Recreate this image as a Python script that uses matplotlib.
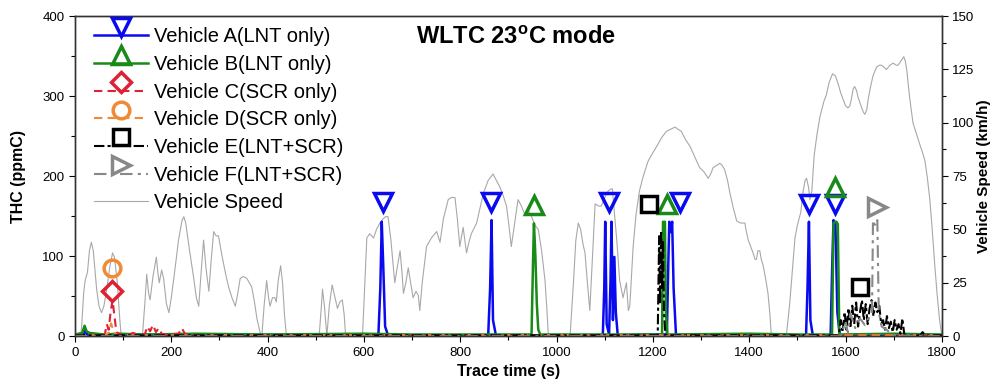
import numpy as np
import matplotlib
matplotlib.use('Agg')
import matplotlib.pyplot as plt
from matplotlib.lines import Line2D
from matplotlib.legend_handler import HandlerLine2D
from matplotlib.ticker import MultipleLocator

plt.rcParams['font.family'] = ['Liberation Sans', 'DejaVu Sans']
plt.rcParams['mathtext.fontset'] = 'custom'
plt.rcParams['mathtext.bf'] = 'Liberation Sans:bold'
plt.rcParams['mathtext.rm'] = 'Liberation Sans'

# vehicle speed (WLTC)
speed_t = [0, 12, 14, 18, 21, 26, 30, 34, 38, 45, 50, 55, 60, 66, 72, 78, 82, 88, 93, 96,
           140, 145, 149, 153, 156, 162, 169, 172, 175, 180, 184, 190, 195, 200, 208, 215, 222, 226,
           230, 238, 246, 252, 257, 262, 267, 272, 278, 283, 288, 293, 298, 305, 312, 319, 326, 333,
           338, 343, 350, 357, 362, 367, 372, 378, 385, 388, 393, 398, 402, 405, 410, 415, 418, 422,
           427, 431, 435, 439,
           507, 511, 514, 518, 523, 528, 534, 540, 545, 550, 555, 559, 562,
           597, 601, 606, 612, 620, 626, 633, 640, 645, 650, 656, 664, 669, 675, 679, 682, 687, 692,
           697, 702, 708, 713, 716, 721, 730, 740, 751, 758, 765, 775, 782, 789, 794, 799, 806, 813,
           818, 823, 834, 841, 848, 858, 868, 875, 882, 889, 896, 901, 906, 913, 920, 927, 934, 941,
           948, 955, 962, 969, 976, 980, 983,
           1028, 1035, 1040, 1045, 1050, 1055, 1059, 1064, 1069, 1074, 1080, 1087, 1093, 1100, 1107,
           1113, 1116, 1120, 1125, 1131, 1138, 1145, 1149, 1152, 1159, 1165, 1172, 1180, 1190, 1200,
           1208, 1218, 1228, 1237, 1246, 1252, 1259, 1268, 1277, 1287, 1297, 1306, 1315, 1320, 1325,
           1332, 1339, 1344, 1349, 1355, 1360, 1367, 1374, 1382, 1391, 1394, 1398, 1403, 1408, 1412,
           1415, 1418, 1422, 1425, 1429, 1434, 1439, 1443, 1446,
           1477, 1484, 1490, 1495, 1500, 1507, 1512, 1516, 1519, 1523, 1526, 1530, 1535, 1541, 1547,
           1555, 1560, 1566, 1573, 1579, 1585, 1590, 1595, 1600, 1605, 1609, 1612, 1616, 1619, 1623,
           1626, 1632, 1637, 1640, 1644, 1647, 1652, 1657, 1664, 1670, 1675, 1680, 1685, 1692, 1699,
           1705, 1709, 1715, 1721, 1724, 1727, 1733, 1740, 1747, 1754, 1760, 1765, 1770, 1775, 1780,
           1785, 1790, 1795, 1800]
speed_v = [0, 0, 5, 20, 26, 30, 40, 44, 40, 22, 14, 11, 14, 22, 32, 39, 37, 25, 8, 0,
           0, 15, 29, 20, 17, 28, 37, 30, 25, 31, 27, 15, 11, 18, 32, 45, 54, 56,
           53, 40, 28, 18, 14, 30, 45, 32, 21, 36, 49, 47, 47, 38, 30, 23, 18, 14,
           20, 27, 28, 27, 25, 23, 17, 8, 1, 0, 15, 26, 18, 14, 18, 18, 16, 26,
           33, 25, 10, 0,
           0, 12, 22, 14, 0, 14, 24, 18, 13, 16, 17, 10, 0,
           0, 20, 46, 48, 46, 50, 53, 55, 56, 56, 45, 25, 32, 40, 30, 20, 25, 32,
           25, 18, 21, 19, 12, 25, 42, 46, 49, 44, 55, 64, 65, 65, 55, 42, 51, 39,
           44, 48, 53, 60, 67, 73, 76, 73, 70, 66, 61, 52, 42, 53, 64, 61, 57, 59,
           56, 52, 50, 40, 26, 12, 0,
           0, 25, 45, 53, 50, 43, 39, 25, 12, 35, 62, 61, 61, 65, 68,
           69, 69, 58, 45, 26, 18, 25, 12, 14, 42, 57, 68, 75, 82, 86,
           89, 93, 96, 97, 98, 97, 96, 92, 89, 84, 79, 77, 74, 76, 79,
           80, 81, 80, 78, 73, 67, 60, 54, 53, 53, 49, 45, 42, 39, 36,
           36, 40, 40, 36, 33, 27, 20, 10, 0,
           0, 15, 32, 46, 52, 58, 68, 73, 74, 70, 64, 68, 85, 95, 103,
           110, 113, 119, 123, 122, 118, 114, 111, 108, 107, 108, 111, 116, 117, 115,
           112, 108, 105, 104, 106, 111, 117, 122, 126, 127, 127, 126, 125, 127, 128,
           127, 127, 129, 131, 129, 125, 112, 100, 95, 90, 86, 82, 74, 64, 50,
           34, 20, 8, 0]

# THC traces (ppmC)
a_t = [0, 18, 22, 26, 120, 300, 500, 630, 634, 637, 640, 644, 650, 858, 862, 865, 868, 874,
       1096, 1099, 1101, 1104, 1109, 1112, 1114, 1117, 1120, 1123, 1127, 1200, 1229, 1232, 1234,
       1237, 1240, 1243, 1248, 1400, 1518, 1521, 1524, 1527, 1532, 1569, 1572, 1575, 1579, 1583,
       1588, 1800]
a_v = [1, 1, 8, 1, 2, 1, 2, 1, 60, 143, 90, 12, 1, 1, 60, 145, 20, 1,
       1, 60, 143, 15, 2, 70, 143, 20, 99, 30, 1, 2, 2, 90, 143,
       130, 143, 60, 1, 2, 1, 60, 143, 20, 1, 1, 80, 145, 140, 30,
       1, 1]
b_t = [0, 15, 20, 24, 30, 60, 90, 150, 250, 400, 600, 700, 948, 951, 953, 956, 959, 962, 966,
       1100, 1219, 1221, 1223, 1225, 1227, 1230, 1400, 1500, 1572, 1575, 1578, 1581, 1584, 1587,
       1700, 1800]
b_v = [2, 4, 13, 6, 4, 2, 3, 2, 3, 2, 3, 2, 2, 90, 141, 100, 40, 8, 2,
       2, 2, 143, 140, 143, 30, 2, 3, 2, 2, 140, 143, 143, 140, 2,
       3, 2]
c_t = [0, 40, 62, 66, 70, 74, 78, 82, 86, 95, 110, 120, 130, 145, 150, 156, 162, 168, 174,
       180, 190, 215, 222, 228, 240, 400, 1000, 1800]
c_v = [1, 1, 2, 15, 8, 30, 45, 25, 5, 2, 1, 4, 2, 2, 12, 6, 14, 5, 10,
       3, 2, 3, 10, 3, 1, 1, 1, 1]
d_t = [0, 60, 70, 75, 80, 88, 100, 200, 600, 1200, 1800]
d_v = [1, 1, 4, 16, 6, 1, 1, 1, 1, 1, 1]
e_t = [0, 400, 800, 1210, 1213, 1215, 1217, 1219, 1221, 1223, 1226, 1400, 1586, 1590, 1594,
       1598, 1602, 1606, 1610, 1614, 1618, 1622, 1626, 1630, 1634, 1638, 1642, 1646, 1650, 1654,
       1658, 1662, 1666, 1670, 1674, 1678, 1682, 1686, 1690, 1694, 1698, 1702, 1706, 1710, 1714,
       1718, 1722, 1728, 1755, 1760, 1765, 1800]
e_v = [1, 1, 1, 1, 125, 40, 132, 60, 120, 30, 1, 1, 1, 20, 5,
       30, 8, 35, 10, 38, 15, 42, 12, 30, 45, 20, 40, 15, 35, 45,
       25, 42, 30, 38, 15, 20, 8, 25, 10, 18, 5, 20, 8, 15, 3,
       22, 2, 1, 1, 5, 1, 1]
f_t = [0, 1590, 1600, 1605, 1610, 1620, 1630, 1640, 1650, 1655, 1657, 1660, 1663, 1666, 1669,
       1675, 1685, 1700, 1800]
f_v = [0, 0, 18, 4, 28, 10, 22, 14, 25, 30, 145, 140, 138, 145, 30,
       12, 8, 1, 0]

# symbols placed above the peaks
mk_a_t = [640, 863, 1109, 1256, 1524, 1578]
mk_a_v = [168, 168, 168, 168, 165, 165]
mk_b_t = [953, 1230, 1578]
mk_b_v = [164, 165, 187]
mk_c_t = [77]
mk_c_v = [57]
mk_d_t = [77]
mk_d_v = [85]
mk_e_t = [1192, 1631]
mk_e_v = [165, 62]
mk_f_t = [1666]
mk_f_v = [162]

labels = ['Vehicle A(LNT only)', 'Vehicle B(LNT only)', 'Vehicle C(SCR only)',
          'Vehicle D(SCR only)', 'Vehicle E(LNT+SCR)', 'Vehicle F(LNT+SCR)']


class MarkerAbove(HandlerLine2D):
    # Origin-style legend entry: symbol drawn above the line sample
    def create_artists(self, legend, orig_handle, xdescent, ydescent, width, height,
                       fontsize, trans):
        x0, x1 = -xdescent, width - xdescent
        y = (height - ydescent) / 2
        line = Line2D([x0, x1], [y, y])
        self.update_prop(line, orig_handle, legend)
        line.set_marker('None')
        mk = Line2D([(x0 + x1) / 2], [y + height * 0.6])
        self.update_prop(mk, orig_handle, legend)
        mk.set_linestyle('None')
        line.set_transform(trans)
        mk.set_transform(trans)
        return [line, mk]


fig = plt.figure(figsize=(9.93, 3.85), dpi=100)
ax = fig.add_axes([0.0755, 0.127, 0.873, 0.831])
ax2 = ax.twinx()
ax.set_zorder(ax2.get_zorder() + 1)
ax.patch.set_visible(False)

sp, = ax2.plot(speed_t, speed_v, color='#a8a8a8', lw=0.8)

series = [
    (a_t, a_v, mk_a_t, mk_a_v, '#0a0af0', '-', 'v', 13, 1.8),
    (b_t, b_v, mk_b_t, mk_b_v, '#178a17', '-', '^', 13, 1.8),
    (c_t, c_v, mk_c_t, mk_c_v, '#dc2233', (0, (4, 2.5)), 'D', 10, 1.5),
    (d_t, d_v, mk_d_t, mk_d_v, '#f08a35', (0, (4, 2.5)), 'o', 12, 1.5),
    (e_t, e_v, mk_e_t, mk_e_v, '#000000', (0, (5, 1.5, 1.5, 1.5)), 's', 11, 1.5),
    (f_t, f_v, mk_f_t, mk_f_v, '#888888', (0, (6, 2.5, 1.5, 2.5)), '>', 13, 1.5),
]
handles = []
for (t, v, mt, mv, col, ls, m, ms, lw), lab in zip(series, labels):
    ax.plot(t, v, color=col, ls=ls, lw=lw)
    ax.plot(mt, mv, ls='none', marker=m, ms=ms, mfc='none', mec=col, mew=2.5)
    handles.append(Line2D([], [], color=col, ls=ls, lw=lw, marker=m, ms=ms, mfc='none',
                          mec=col, mew=2.5, label=lab))
handles.append(Line2D([], [], color='#a8a8a8', lw=0.8, label='Vehicle Speed'))

hmap = {h: MarkerAbove() for h in handles[:-1]}
ax.legend(handles=handles, handler_map=hmap, loc='upper left', bbox_to_anchor=(0.022, 0.965),
          frameon=False, fontsize=14.5, labelspacing=0.43, handlelength=2.7,
          handletextpad=0.3, borderaxespad=0, borderpad=0)

ax.text(0.509, 0.934, r'WLTC 23$^{\mathbf{o}}$C mode', transform=ax.transAxes,
        ha='center', va='center', fontsize=17, fontweight='bold')

ax.set_xlim(0, 1800)
ax.set_ylim(0, 400)
ax2.set_ylim(0, 150)
ax.xaxis.set_major_locator(MultipleLocator(200))
ax.xaxis.set_minor_locator(MultipleLocator(100))
ax.yaxis.set_major_locator(MultipleLocator(100))
ax.yaxis.set_minor_locator(MultipleLocator(50))
ax2.yaxis.set_major_locator(MultipleLocator(25))
ax2.yaxis.set_minor_locator(MultipleLocator(12.5))
for a in (ax, ax2):
    a.tick_params(which='both', direction='out', labelsize=9.5, width=0.8)
    a.tick_params(which='major', length=4)
    a.tick_params(which='minor', length=3)
    for s in a.spines.values():
        s.set_linewidth(1.0)
        s.set_color('#333333')

ax.set_xlabel('Trace time (s)', fontsize=11.5, fontweight='bold')
ax.set_ylabel('THC (ppmC)', fontsize=11.5, fontweight='bold', labelpad=12)
ax2.set_ylabel('Vehicle Speed (km/h)', fontsize=11, fontweight='bold', labelpad=2)

fig.savefig('out.png', dpi=100)
